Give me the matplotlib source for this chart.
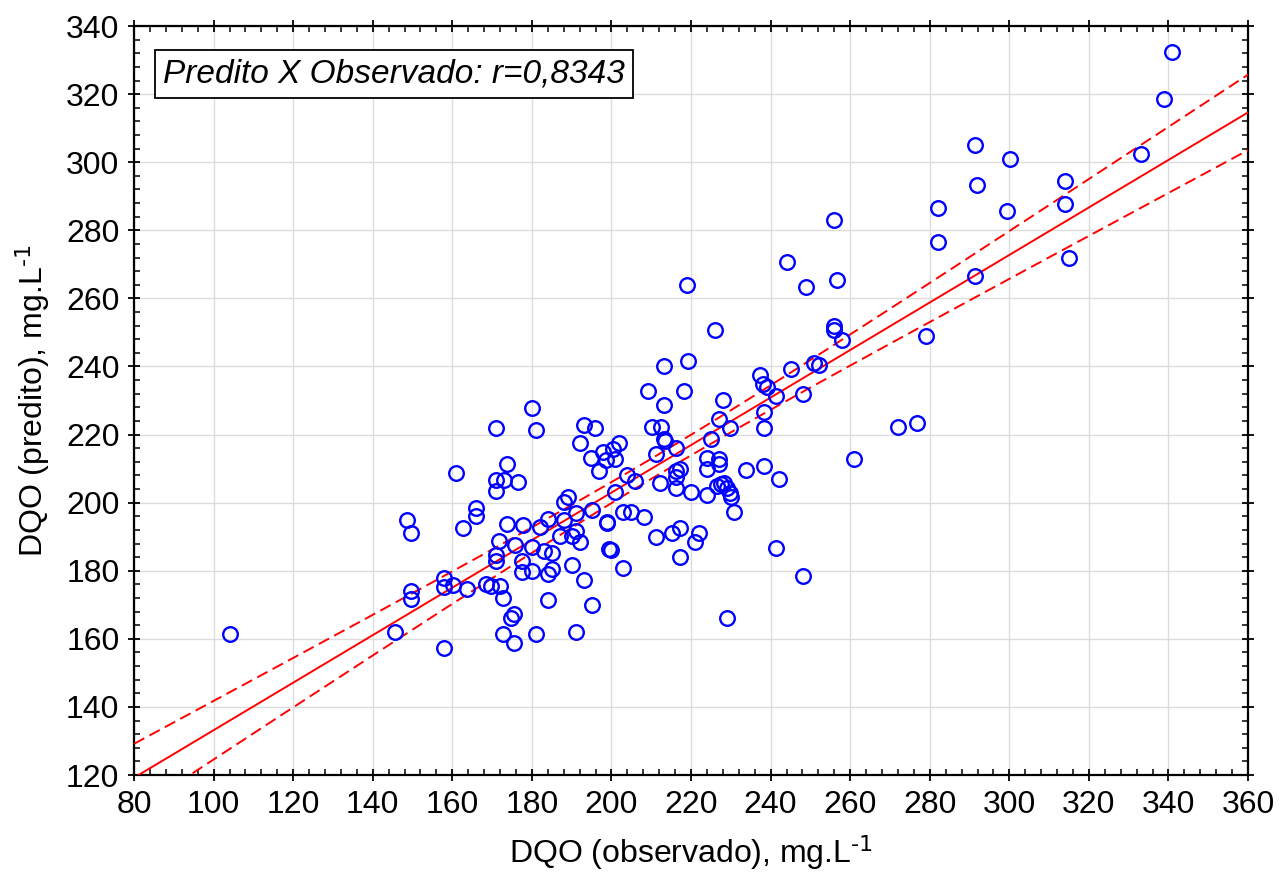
import numpy as np
import matplotlib
matplotlib.use('Agg')
import matplotlib.pyplot as plt
from matplotlib.ticker import MultipleLocator

observado = [
    104, 145.7, 148.7, 149.7, 149.7, 149.7, 158, 158, 160.2, 158,
    161, 162.8, 163.8, 165.9, 165.9, 168.5, 169.6, 172, 171, 173.7,
    170.9, 172.9, 170.9, 176.5, 173.7, 177.7, 171.8, 175.7, 170.9, 170.9,
    177.5, 177.6, 172.7, 174.7, 175.5, 172.8, 175.5,
    180.1, 181.1, 193, 195.9, 192, 197.8, 194.9, 198.7, 196.8,
    180.1, 182.1, 184.1, 183.1, 185.1, 184.1, 185.1, 187.1, 188, 189,
    188, 191, 190.1, 191.1, 192, 195, 198.8, 199.4, 190, 193,
    184, 195, 191, 181.1, 180.1,
    200.4, 201.8, 200.9, 210.1, 212.4, 213.2, 213.4, 211.1, 216.2, 203.8,
    205.8, 200.9, 216.3, 217.1, 216.2, 212.2, 216.2, 220.1, 224.1, 227.1,
    227.1, 224.1, 224, 226.6, 227.5, 228.2, 229, 229.8, 230, 230.9,
    233.8, 238.4, 242.2, 202.9, 204.9, 208.3, 198.9, 199.8, 202.9, 211.2,
    215.1, 217.1, 222, 221.1, 217.1, 241.3, 248.2, 229, 209.2, 218.2,
    213.2, 228, 241.3, 248.2, 227, 238.4, 238.4, 229.8, 225, 272,
    276.7, 261, 237.3, 238.2, 239.2, 213.2, 219.2, 245.2, 250.8, 252.2,
    226, 256, 256, 257.9, 279, 219.1, 244, 249, 256.8, 256,
    282, 282, 291.3, 300.1, 291.8, 314, 314, 299.3, 315, 291.3,
    333, 339, 341,
]
predito = [
    161.4, 162, 194.9, 191, 174.1, 171.6, 177.8, 175.3, 175.8, 157.3,
    208.7, 192.7, 174.6, 198.5, 196, 176, 175.6, 175.6, 221.9, 211.3,
    206.6, 206.6, 203.5, 206.1, 193.8, 193.3, 188.6, 187.6, 184.6, 182.8,
    182.8, 179.5, 172, 166, 167.3, 161.5, 158.8,
    227.8, 221.4, 222.9, 222, 217.6, 215, 213, 212.6, 209.3,
    187, 192.8, 195.3, 185.8, 185.2, 179, 180.5, 190.2, 200.2, 201.8,
    195, 197.1, 190.2, 191.8, 188.4, 197.8, 194.2, 186.3, 181.6, 177.4,
    171.5, 169.9, 162, 161.4, 180,
    215.7, 217.5, 212.8, 222.3, 222.3, 218.6, 218, 214.2, 216, 208,
    206.4, 203, 209.3, 209.8, 207.6, 205.8, 204.4, 203.1, 213.2, 212.9,
    211.3, 209.8, 202.2, 204.9, 205.4, 205.9, 204.4, 202.7, 201.8, 197.4,
    209.5, 210.7, 206.9, 197.4, 197.4, 195.8, 194.1, 186.1, 180.9, 189.9,
    191, 192.5, 191, 188.3, 184.1, 186.7, 178.6, 166.1, 232.8, 232.8,
    228.6, 230.2, 231.4, 232, 224.5, 226.7, 222, 221.8, 218.6, 222.3,
    223.3, 212.7, 237.6, 234.8, 234, 240, 241.5, 239.3, 241, 240.5,
    250.6, 252, 250.7, 247.8, 249, 264, 270.8, 263.3, 265.5, 283,
    286.5, 276.6, 305, 300.8, 293.4, 294.4, 287.6, 285.6, 271.8, 266.5,
    302.4, 318.7, 332.5,
]
rotulo = 'Predito X Observado: r=0,8343'

x = np.array(observado)
y = np.array(predito)

# linear fit + 95% confidence band of the mean
n = len(x)
b, a = np.polyfit(x, y, 1)
resid = y - (a + b * x)
s = np.sqrt(np.sum(resid**2) / (n - 2))
sxx = np.sum((x - x.mean())**2)
T_CRIT = 1.975

xs = np.linspace(80, 360, 300)
yfit = a + b * xs
half = T_CRIT * s * np.sqrt(1.0 / n + (xs - x.mean())**2 / sxx)

plt.rcParams['font.family'] = ['Liberation Sans', 'DejaVu Sans']
plt.rcParams['mathtext.default'] = 'regular'

fig = plt.figure(figsize=(12.79, 8.77), dpi=100)
ax = fig.add_axes([0.1048, 0.1163, 0.871, 0.854])

ax.plot(xs, yfit, color='red', lw=1.4, zorder=3)
ax.plot(xs, yfit + half, color='red', lw=1.4, ls=(0, (6, 3)), zorder=3)
ax.plot(xs, yfit - half, color='red', lw=1.4, ls=(0, (6, 3)), zorder=3)
ax.plot(x, y, 'o', ms=10.5, mfc='none', mec='#0000ff', mew=1.7, zorder=4)

ax.set_xlim(80, 360)
ax.set_ylim(120, 340)
ax.xaxis.set_major_locator(MultipleLocator(20))
ax.yaxis.set_major_locator(MultipleLocator(20))
ax.xaxis.set_minor_locator(MultipleLocator(4))
ax.yaxis.set_minor_locator(MultipleLocator(4))
ax.grid(True, which='major', color='#dcdcdc', lw=1)
ax.set_axisbelow(True)
ax.tick_params(which='major', direction='inout', length=9, width=1.3,
               top=True, right=True, labelsize=23, pad=6)
ax.tick_params(which='minor', direction='in', length=4, width=1.1,
               top=True, right=True)
for sp in ax.spines.values():
    sp.set_linewidth(1.6)

ax.set_xlabel(r'DQO (observado), mg.L$^{\text{-1}}$', fontsize=23, labelpad=10)
ax.set_ylabel(r'DQO (predito), mg.L$^{\text{-1}}$', fontsize=23, labelpad=10)

ax.text(0.026, 0.957, rotulo, transform=ax.transAxes, fontsize=24,
        style='italic', va='top', ha='left', zorder=5,
        bbox=dict(boxstyle='square,pad=0.25', fc='white', ec='black', lw=1.3))

plt.savefig('out.png', dpi=100)
